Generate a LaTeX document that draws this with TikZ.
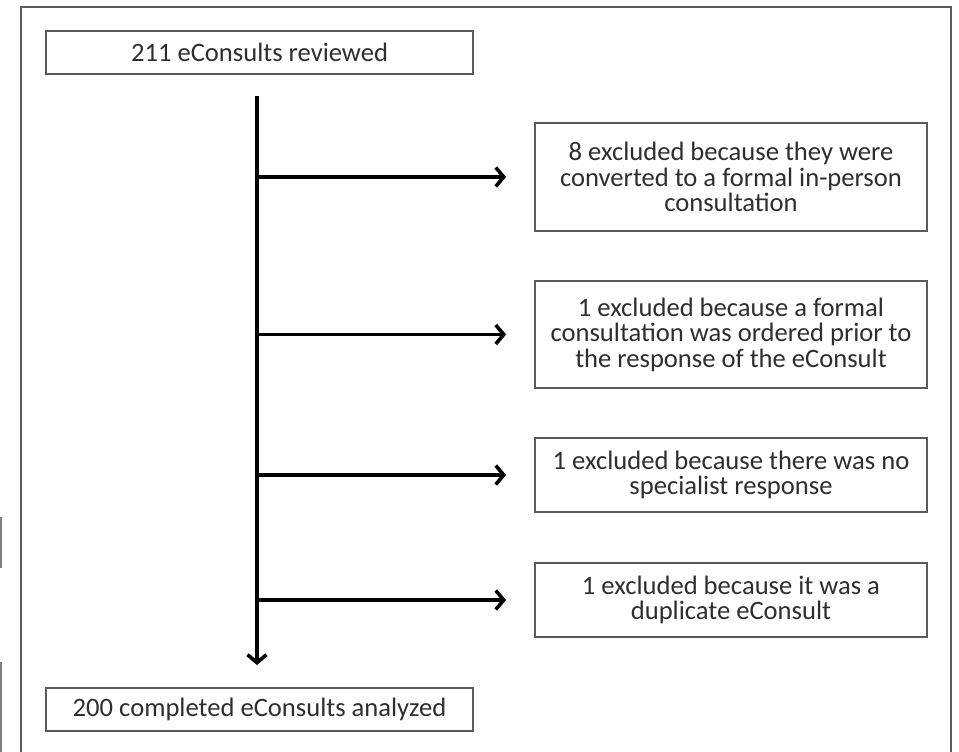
\documentclass[tikz,border=0pt]{standalone}
\usepackage{fontspec}
\setmainfont{Carlito}
\usetikzlibrary{arrows.meta}

\definecolor{ink}{HTML}{2E2E2E}
\definecolor{rim}{HTML}{5A5A5A}

\tikzset{
  box/.style={draw=rim, line width=1.8pt, text=ink, align=center, inner sep=0pt,
    font=\fontsize{26.6}{25.5}\selectfont},
  flow/.style={line width=3.6pt, -{Straight Barb[length=8pt,width=19pt]}}
}

\begin{document}
\begin{tikzpicture}[x=1pt, y=-1pt]

	\useasboundingbox (0,0) rectangle (959,752);
	\draw[rim, line width=2pt] (21,7) rectangle (951,780);
	\draw[gray, line width=2pt] (1,517) -- (1,568);
	\draw[gray, line width=2pt] (1,662) -- (1,760);

	\node[box, minimum width=427pt, minimum height=43pt] (top) at (259.5,52.5) {211 eConsults reviewed};
	\node[box, minimum width=427pt, minimum height=43pt] (bottom) at (259.5,709.5) {200 completed eConsults analyzed};

	\node[box, minimum width=392pt, minimum height=108pt] (ex1) at (731,177)
		{8 excluded because they were\\converted to a formal in-person\\consultation};
	\node[box, minimum width=392pt, minimum height=107pt] (ex2) at (731,334.5)
		{1 excluded because a formal\\consultation was ordered prior to\\the response of the eConsult};
	\node[box, minimum width=392pt, minimum height=74pt] (ex3) at (731,475)
		{1 excluded because there was no\\specialist response};
	\node[box, minimum width=392pt, minimum height=74pt] (ex4) at (731,600)
		{1 excluded because it was a\\duplicate eConsult};

	\coordinate (start) at (257,96);
	\coordinate (stop) at (257,665);
	\draw[flow] (start) -- (stop);

	\foreach \i in {1,...,4}
		\draw[flow] (start |- ex\i) -- ([xshift=-28pt]ex\i.west);

\end{tikzpicture}
\end{document}
